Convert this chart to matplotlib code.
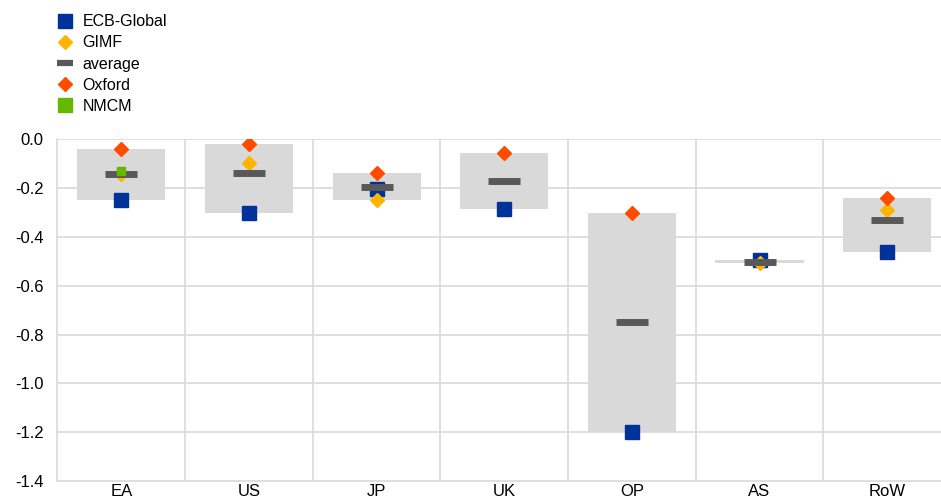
import numpy as np
import matplotlib.pyplot as plt
from matplotlib.lines import Line2D

plt.rcParams['font.family'] = ['Liberation Sans', 'DejaVu Sans']

regions = ["EA", "US", "JP", "UK", "OP", "AS", "RoW"]
ecb_global = [-0.25, -0.30, -0.205, -0.285, -1.20, -0.495, -0.46]
gimf = [-0.14, -0.095, -0.248, np.nan, np.nan, -0.507, -0.29]
oxford = [-0.04, -0.02, -0.136, -0.054, -0.30, np.nan, -0.242]
nmcm = [-0.13, np.nan, np.nan, np.nan, np.nan, np.nan, np.nan]
yticks = [-1.4, -1.2, -1.0, -0.8, -0.6, -0.4, -0.2, 0.0]
ytick_labels = ["-1.4", "-1.2", "-1.0", "-0.8", "-0.6", "-0.4", "-0.2", "0.0"]

vals = np.array([ecb_global, gimf, oxford, nmcm])
hi = np.nanmax(vals, axis=0)
lo = np.nanmin(vals, axis=0)
avg = np.nanmean(vals, axis=0)
x = np.arange(len(regions))

c_ecb = "#003299"
c_gimf = "#FFB400"
c_avg = "#595959"
c_ox = "#FF4B00"
c_nm = "#65B800"
grid_c = "#D9D9D9"

fig = plt.figure(figsize=(9.41, 4.99), dpi=100)
ax = fig.add_axes([0.0611, 0.0361, 0.9495, 0.6845])

# grey range bar from min to max of the models
ax.bar(x, hi - lo, bottom=lo, width=0.69, color="#D9D9D9", zorder=2)

ax.plot(x, ecb_global, 's', color=c_ecb, ms=10, ls='none', zorder=3)
ax.plot(x, gimf, 'D', color=c_gimf, ms=7.4, ls='none', zorder=4)
ax.plot(x, avg, '_', color=c_avg, ms=23, mew=5, ls='none', zorder=5)
ax.plot(x, oxford, 'D', color=c_ox, ms=7.4, ls='none', zorder=6)
ax.plot(x, nmcm, 's', color=c_nm, ms=6, ls='none', zorder=7)

ax.set_xlim(-0.5, len(regions) - 0.5)
ax.set_ylim(-1.4, 0.0)
ax.set_yticks(yticks)
ax.set_yticklabels(ytick_labels)
ax.set_xticks(x)
ax.set_xticklabels(regions)

for yv in yticks[1:]:
    ax.axhline(yv, color=grid_c, lw=1.2, zorder=1)
for xv in x[:-1] + 0.5:
    ax.axvline(xv, color=grid_c, lw=1.2, zorder=1)

for s in ["top", "right"]:
    ax.spines[s].set_visible(False)
for s in ["left", "bottom"]:
    ax.spines[s].set_color(grid_c)
    ax.spines[s].set_linewidth(1.2)
ax.tick_params(length=0, labelsize=12, colors="#000000")
ax.tick_params(axis='y', pad=10)
ax.tick_params(axis='x', pad=2)

handles = [
    Line2D([], [], marker='s', color=c_ecb, ms=10, ls='none'),
    Line2D([], [], marker='D', color=c_gimf, ms=7.4, ls='none'),
    Line2D([], [], marker='_', color=c_avg, ms=11, mew=4.5, ls='none'),
    Line2D([], [], marker='D', color=c_ox, ms=7.4, ls='none'),
    Line2D([], [], marker='s', color=c_nm, ms=10, ls='none'),
]
fig.legend(handles=handles,
           labels=["ECB-Global", "GIMF", "average", "Oxford", "NMCM"],
           loc="upper left", bbox_to_anchor=(0.045, 1.0), frameon=False,
           fontsize=11.5, handlelength=1.0, handletextpad=0.6, labelspacing=0.38)

fig.savefig("out.png", dpi=100)
